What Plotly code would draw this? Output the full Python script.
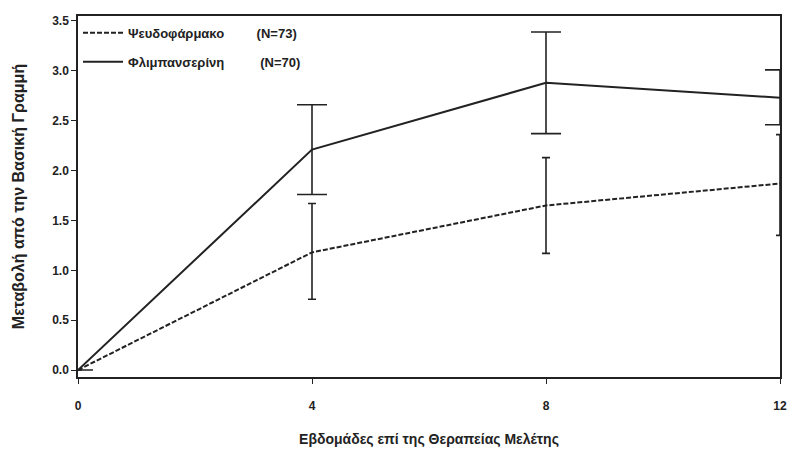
import plotly.graph_objects as go

weeks = [0, 4, 8, 12]
placebo = [0.0, 1.18, 1.65, 1.87]
placebo_hi = [0.0, 1.67, 2.13, 2.36]
placebo_lo = [0.0, 0.71, 1.17, 1.35]
flib = [0.0, 2.21, 2.88, 2.73]
flib_hi = [0.0, 2.66, 3.39, 3.01]
flib_lo = [0.0, 1.76, 2.37, 2.46]
x_ticks = [0, 4, 8, 12]
y_ticks = [0.0, 0.5, 1.0, 1.5, 2.0, 2.5, 3.0, 3.5]

font = "Liberation Sans, Arial, sans-serif"
nb = "\u00a0"

fig = go.Figure()
fig.add_trace(go.Scatter(
    x=weeks, y=placebo, mode="lines", cliponaxis=False, legendgroup="p",
    name="<b>Ψευδοφάρμακο" + nb * 9 + "(N=73)</b>",
    line=dict(color="#222", width=2, dash="5px,2px"),
    error_y=dict(type="data", symmetric=False,
                 array=[h - v for h, v in zip(placebo_hi, placebo)],
                 arrayminus=[v - l for v, l in zip(placebo, placebo_lo)],
                 color="#222", thickness=1.6, width=4),
))
fig.add_trace(go.Scatter(
    x=weeks, y=flib, mode="lines", cliponaxis=False, legendgroup="f",
    name="<b>Φλιμπανσερίνη" + nb * 10 + "(N=70)</b>",
    line=dict(color="#222", width=2),
    error_y=dict(type="data", symmetric=False,
                 array=[h - v for h, v in zip(flib_hi, flib)],
                 arrayminus=[v - l for v, l in zip(flib, flib_lo)],
                 color="#222", thickness=1.6, width=15),
))

fig.update_layout(
    width=788, height=454,
    margin=dict(l=78, r=8, t=16, b=77),
    paper_bgcolor="white", plot_bgcolor="white",
    font=dict(family=font, color="#222"),
    showlegend=True,
    legend=dict(x=0.0, y=0.995, xanchor="left", yanchor="top",
                font=dict(size=13, family=font), bgcolor="rgba(0,0,0,0)",
                itemwidth=40, tracegroupgap=9),
    xaxis=dict(range=[0, 12], tickvals=x_ticks, ticktext=[f"<b>{t}</b>" for t in x_ticks],
               showline=True, linecolor="#222", linewidth=1.5, mirror=True,
               ticks="outside", ticklen=5, tickcolor="#222", showgrid=False, zeroline=False,
               tickfont=dict(size=12, family=font), automargin=False,
               ticklabelstandoff=12,
               title=dict(text="<b>Εβδομάδες επί της Θεραπείας Μελέτης</b>",
                          font=dict(size=14, family=font), standoff=22)),
    yaxis=dict(range=[-0.07, 3.55], tickvals=y_ticks,
               ticktext=[f"<b>{t:.1f}</b>" for t in y_ticks],
               showline=True, linecolor="#222", linewidth=1.5, mirror=True,
               ticks="outside", ticklen=5, tickcolor="#222", showgrid=False, zeroline=False,
               tickfont=dict(size=12, family=font), automargin=False,
               title=dict(text="<b>Μεταβολή από την Βασική Γραμμή</b>",
                          font=dict(size=16, family=font), standoff=24)),
)

fig.write_html("out.html", config={"displayModeBar": False},
               post_script="document.body.style.margin='0';document.body.style.overflow='hidden';")
